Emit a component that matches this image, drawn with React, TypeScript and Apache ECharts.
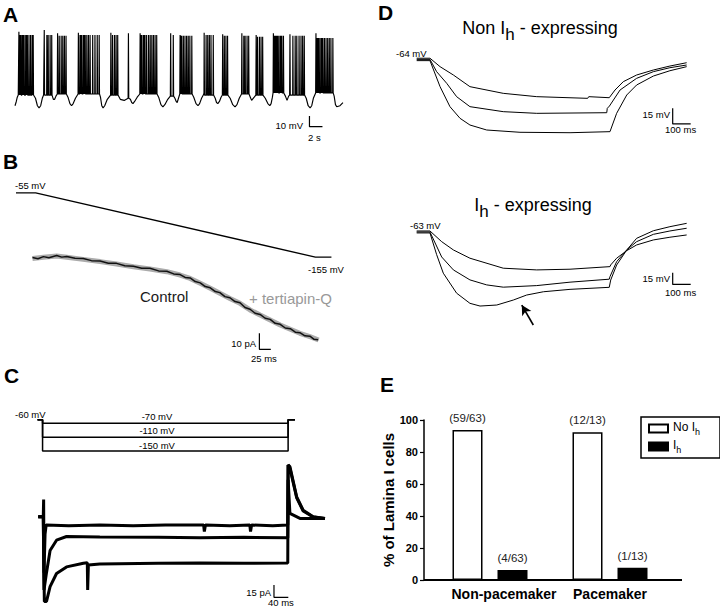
import React, { useEffect, useRef } from "react";
import * as echarts from "echarts";

const FONT = '"Liberation Sans", Arial, Helvetica, sans-serif';

// ---------- Panel A : spontaneous bursting (time s, membrane potential mV)
const aSlowWave: number[][] = [
  [0, -66], [0.2, -62], [0.35, -58], [0.5, -56],
  [2.9, -56], [3.15, -59], [3.45, -66], [3.7, -68], [3.95, -66], [4.2, -59], [4.4, -56],
  [5.7, -56], [5.9, -60], [6.1, -60], [6.3, -57], [6.5, -55],
  [7.9, -55], [8.15, -58], [8.45, -64], [8.7, -66], [8.95, -64], [9.3, -59], [9.7, -55],
  [13.0, -55], [13.15, -58], [13.35, -66], [13.55, -68], [13.8, -66], [14.2, -60], [14.7, -56],
  [15.85, -56], [16.2, -60], [16.8, -61], [17.4, -59],
  [17.5, -59], [17.75, -60], [17.95, -63], [18.15, -64], [18.4, -62], [18.8, -58], [19.2, -55],
  [21.85, -55], [22.1, -58], [22.45, -65], [22.75, -67], [23.05, -65], [23.5, -60], [23.9, -57],
  [24.4, -57], [24.6, -59], [24.8, -62], [24.95, -63], [25.15, -59], [25.35, -55],
  [27.25, -55], [27.5, -58], [27.85, -64], [28.15, -66], [28.4, -64], [28.7, -59], [29.05, -55],
  [30.55, -55], [30.8, -59], [31.0, -63], [31.2, -64], [31.45, -62], [31.7, -58], [31.9, -56],
  [32.75, -56], [33.1, -59], [33.5, -65], [33.85, -67], [34.15, -65], [34.5, -59], [34.85, -55],
  [36.0, -55], [36.2, -58], [36.4, -61], [36.8, -58], [37.05, -56],
  [38.15, -56], [38.5, -59], [38.9, -64], [39.2, -66], [39.4, -64], [39.6, -58], [39.7, -54],
  [41.35, -54], [41.6, -57], [41.85, -61], [42.1, -57], [42.25, -56],
  [44.55, -56], [44.8, -59], [45.1, -66], [45.4, -68], [45.65, -66], [45.9, -59], [46.25, -54],
  [48.95, -54], [49.1, -57], [49.3, -65], [49.5, -67], [50.0, -66], [50.45, -63],
];
const aBurstSpikes: number[][] = [
  [0.6, 0.75, 0.9, 1.1, 1.25, 1.4, 1.65, 1.8, 1.9, 2.15, 2.4, 2.65, 2.8],
  [4.5, 4.9, 5.1, 5.4, 5.65],
  [6.55, 6.8, 7.1, 7.35, 7.6, 7.85],
  [9.75, 10, 10.15, 10.25, 10.5, 10.65, 10.8, 11.05, 11.3, 11.55, 11.95, 12.3, 12.65, 12.95],
  [14.75, 15, 15.3, 15.55, 15.8],
  [17.45],
  [19.25, 19.4, 19.5, 19.75, 19.9, 20, 20.25, 20.55, 20.8, 21.05, 21.3, 21.55, 21.8],
  [23.95, 24.35],
  [25.4, 25.55, 25.65, 25.9, 26.15, 26.4, 26.65, 26.9, 27.2],
  [29.1, 29.4, 29.65, 29.9, 30.15, 30.5],
  [31.95, 32.2, 32.45, 32.7],
  [34.9, 35.2, 35.4, 35.7, 35.95],
  [37.1, 37.3, 37.6, 37.85, 38.1],
  [39.75, 39.9, 40, 40.15, 40.25, 40.4, 40.5, 40.75, 40.9, 41.05, 41.3],
  [42.3, 42.75, 43.1, 43.35, 43.7, 44, 44.25, 44.5],
  [46.3, 46.45, 46.55, 46.7, 46.8, 47.05, 47.2, 47.35, 47.6, 47.85, 48.1, 48.35, 48.6, 48.9],
];
const aBurstPlateau = [-56, -56, -55, -55, -56, -59, -55, -57, -55, -56, -56, -55, -56, -54, -56, -54];
const aPeakFirst = [3.4, 5, 1.9, 2.5, 2.5, 1.9, 1.9, 1.9, 0.3, 2.5, 1.0, 1.9, 0.3, 1.9, 1.0, 1.9];
const aPeakRest = [0.3, 0.3, -0.5, 0.3, 0.3, 0, 0.3, 0.3, -0.5, 0.3, -0.5, -0.5, -1.3, -0.5, -0.5, -2.5];

// ---------- Panel B : voltage ramp (ms, mV) and current (ms, pA)
const bCommandTime = [0, 43, 655, 690];
const bCommandMv = [-55, -55, -155, -155];
const bTertiapin: number[][] = [
  [36, 1.0], [60, 1.7], [89, 2.5], [111, 1.7], [147, 0.4], [184, -1.0], [220, -2.5], [257, -4.2],
  [293, -5.6], [330, -7.3], [359, -9.4], [381, -11.5], [403, -14.6], [425, -17.7], [446, -20.8],
  [468, -24.0], [490, -27.1], [512, -31.2], [534, -34.4], [556, -37.5], [578, -40.6], [600, -43.3],
  [621, -45.8], [643, -47.9], [662, -50.0],
];
const bControl: number[][] = [
  [36, 1.5], [48, 0.8], [60, 2.1], [72, 1.4], [89, 2.8], [100, 1.8], [111, 2.2], [129, 1.1], [147, 0.9],
  [165, -0.4], [184, -0.6], [202, -2.0], [220, -2.1], [238, -3.6], [257, -3.9], [275, -5.2], [293, -5.2],
  [312, -6.8], [330, -7.0], [345, -8.7], [359, -9.1], [370, -10.9], [381, -11.2], [392, -13.5], [403, -14.3],
  [414, -16.6], [425, -17.4], [436, -19.7], [446, -20.4], [457, -22.9], [468, -23.6], [479, -26.0],
  [490, -26.7], [501, -29.7], [512, -30.8], [523, -33.3], [534, -34.0], [545, -36.4], [556, -37.1],
  [567, -39.6], [578, -40.2], [589, -42.5], [600, -42.9], [611, -45.1], [621, -45.4], [632, -47.4],
  [643, -47.6], [652, -49.6], [661, -49.8],
];

// ---------- Panel C : voltage steps (ms, mV) and currents (ms, pA)
const cCommandTime = [63, 77, 77, 763, 763, 782];
const cCommandLevels: number[][] = [
  [-60, -60, -70, -70, -60, -60],
  [-60, -60, -110, -110, -60, -60],
  [-60, -60, -150, -150, -60, -60],
];
const cStepLabels = ["-70 mV", "-110 mV", "-150 mV"];
const cCurrent70: number[][] = [
  [65, 1], [79, 1], [80, 22], [81, -67], [84, -20], [87, -9], [150, -10], [237, -9], [330, -10], [420, -9],
  [527, -9], [529, -17], [532, -9], [600, -10], [656, -9], [658, -17], [661, -9], [720, -10], [762, -9],
  [763, 46], [768, 5], [796, -1], [866, -1],
];
const cCurrent110: number[][] = [
  [65, 1], [79, 1], [81, -88], [88, -67], [98, -40], [116, -27.5], [144, -23], [237, -23.6], [400, -24],
  [517, -24.5], [640, -24], [762, -24.5], [763, 64], [768, 62], [787, 25], [805, 9], [833, 1], [866, -1],
];
const cCurrent150: number[][] = [
  [65, 1], [79, 1], [82, -102], [88, -102], [98, -84], [116, -68], [144, -60], [191, -55.6], [202, -55],
  [203, -88], [205, -57.7], [237, -56.4], [400, -55.5], [517, -55.2], [640, -55.5], [762, -55.2],
  [763, 64], [768, 60], [787, 24], [805, 8], [833, 0.7], [866, -1],
];

// ---------- Panel D : voltage responses (ms, mV)
const dNonSmall: number[][] = [
  [37, -63.5], [111, -63.5], [167, -71.6], [241, -79.6], [333, -90.8], [518, -97.2], [704, -100.4],
  [987, -102], [993, -100.4], [1107, -101.4], [1139, -94], [1185, -86], [1259, -79.6], [1352, -74.8],
  [1444, -71], [1537, -67.8],
];
const dNonMid: number[][] = [
  [37, -64.6], [111, -64.6], [148, -76.4], [204, -87.6], [259, -100.4], [333, -110], [518, -114.8],
  [704, -116.4], [1093, -115.8], [1096, -111.6], [1108, -109.4], [1167, -94], [1259, -82.8],
  [1352, -76.4], [1444, -72.6], [1537, -70],
];
const dNonLarge: number[][] = [
  [37, -65.8], [111, -65.8], [167, -90.8], [222, -110], [278, -121.2], [333, -127.6], [426, -132.4],
  [611, -134.6], [889, -135], [1111, -134], [1148, -116.4], [1204, -98.8], [1259, -89.2], [1352, -80.6],
  [1444, -75.5], [1537, -71.6],
];
const dIhSmall: number[][] = [
  [37, -61.7], [111, -61.7], [176, -75.4], [241, -86], [333, -96.6], [518, -109.4], [704, -111.6],
  [889, -110.7], [1111, -107.4], [1115, -105.2], [1148, -96.6], [1204, -86.9], [1259, -79.6],
  [1352, -73.2], [1444, -69.7], [1537, -66.8],
];
const dIhMid: number[][] = [
  [37, -63], [111, -63], [176, -95], [241, -111.6], [333, -124.4], [426, -130.8], [518, -133.7],
  [704, -131.7], [889, -127.3], [1107, -123.5], [1111, -120.2], [1148, -101], [1204, -86],
  [1259, -75.4], [1352, -66], [1444, -61.7], [1537, -58.2],
];
const dIhLarge: number[][] = [
  [37, -64.2], [111, -64.2], [148, -92], [185, -115.8], [259, -141.4], [333, -154.4], [389, -157.9],
  [482, -156.6], [574, -150.2], [648, -143.8], [741, -139.6], [889, -136.5], [1107, -133.9],
  [1115, -124.6], [1148, -105.3], [1204, -86.1], [1259, -71.1], [1352, -61.4], [1444, -56.2],
  [1537, -51.9],
];
const dSagArrow = [[685, -182.2], [621, -156.6]];

// ---------- Panel E : bar chart
const eCategories = ["Non-pacemaker", "Pacemaker"];
const eNoIh = [93.7, 92.3];
const eIh = [6.3, 7.7];
const eNoIhLabels = ["(59/63)", "(12/13)"];
const eIhLabels = ["(4/63)", "(1/13)"];

// scale bars: anchor (data units) + lengths
const scaleBars = [
  { xi: 0, yi: 0, x: 45.3, y: -75.6, dx: 2, dy: 10 },
  { xi: 1, yi: 2, x: 532.4, y: -45.8, dx: 25, dy: 10 },
  { xi: 2, yi: 4, x: 723.5, y: -82, dx: 40, dy: 15 },
  { xi: 3, yi: 5, x: 1459.4, y: -111.6, dx: 100, dy: 15 },
  { xi: 4, yi: 6, x: 1459.4, y: -115.2, dx: 100, dy: 15 },
];

function buildBurstTrace(): number[][] {
  const pts: number[][] = aSlowWave.map((p) => [p[0], p[1]]);
  aBurstSpikes.forEach((spikes, i) => {
    spikes.forEach((t, j) => {
      const peak = j === 0 ? aPeakFirst[i] : aPeakRest[i];
      pts.push([t - 0.03, aBurstPlateau[i]], [t, peak], [t + 0.05, aBurstPlateau[i]]);
    });
  });
  pts.sort((a, b) => a[0] - b[0]);
  return pts;
}

function trace(xi: number, yi: number, data: number[][], color = "#000", width = 1, z = 2, extra: any = {}) {
  return {
    type: "line",
    xAxisIndex: xi,
    yAxisIndex: yi,
    data,
    showSymbol: false,
    symbol: "none",
    silent: true,
    clip: false,
    z,
    lineStyle: { color, width },
    ...extra,
  };
}

function hAxis(gridIndex: number, min: number, max: number) {
  return { type: "value", gridIndex, min, max, show: false, splitLine: { show: false } };
}

function txt(x: number, y: number, text: string, size: number, o: any = {}) {
  return {
    type: "text",
    x,
    y,
    silent: true,
    style: {
      text,
      fill: o.color || "#000",
      fontSize: size,
      fontFamily: FONT,
      fontWeight: o.weight || "normal",
      align: o.align || "left",
      verticalAlign: o.va || "middle",
    },
  };
}

function subTitle(x: number, y: number, before: string, after: string) {
  return {
    type: "text",
    x,
    y,
    silent: true,
    style: {
      text: `{m|${before}}{s|h}{m|${after}}`,
      align: "center",
      verticalAlign: "top",
      rich: {
        m: { fontSize: 18, fontFamily: FONT, fill: "#000", verticalAlign: "top" },
        s: { fontSize: 17, fontFamily: FONT, fill: "#000", verticalAlign: "top", padding: [7, 0, 0, 0] },
      },
    },
  };
}

function buildOption(): any {
  const series: any[] = [];
  // A
  series.push(trace(0, 0, buildBurstTrace(), "#000", 1.15));
  // B
  series.push(trace(1, 1, bCommandTime.map((t, i) => [t, bCommandMv[i]]), "#000", 1.3));
  series.push(trace(1, 2, bTertiapin, "#ababab", 5, 2));
  series.push(trace(1, 2, bControl, "#111", 1.5, 3));
  // C
  cCommandLevels.forEach((lv) => {
    series.push(trace(2, 3, cCommandTime.map((t, i) => [t, lv[i]]), "#000", 1.5));
  });
  [cCurrent70, cCurrent110, cCurrent150].forEach((d) => series.push(trace(2, 4, d, "#000", 3)));
  // D
  [dNonSmall, dNonMid, dNonLarge].forEach((d) => series.push(trace(3, 5, d, "#000", 1)));
  [dIhSmall, dIhMid].forEach((d) => series.push(trace(4, 6, d, "#000", 1)));
  series.push(
    trace(4, 6, dIhLarge, "#000", 1, 2, {
      markLine: {
        silent: true,
        symbol: ["none", "arrow"],
        symbolSize: [8, 10],
        label: { show: false },
        lineStyle: { color: "#000", width: 1.6, type: "solid" },
        data: [[{ coord: dSagArrow[0] }, { coord: dSagArrow[1] }]],
      },
    })
  );
  // scale bars
  scaleBars.forEach((s) => {
    series.push(
      trace(s.xi, s.yi, [[s.x, s.y], [s.x, s.y - s.dy], [s.x + s.dx, s.y - s.dy]], "#000", 1.2)
    );
  });
  // E bars
  series.push({
    type: "bar",
    name: "No Ih",
    xAxisIndex: 5,
    yAxisIndex: 7,
    data: eNoIh,
    barWidth: 30,
    barGap: "50%",
    itemStyle: { color: "#fff", borderColor: "#000", borderWidth: 1.5 },
    label: {
      show: true,
      position: "top",
      distance: 6,
      fontSize: 11.5,
      color: "#222",
      fontFamily: FONT,
      formatter: (p: any) => eNoIhLabels[p.dataIndex],
    },
  });
  series.push({
    type: "bar",
    name: "Ih",
    xAxisIndex: 5,
    yAxisIndex: 7,
    data: eIh,
    barWidth: 30,
    barGap: "50%",
    itemStyle: { color: "#000", borderColor: "#000", borderWidth: 1.5 },
    label: {
      show: true,
      position: "top",
      distance: 6,
      fontSize: 11.5,
      color: "#222",
      fontFamily: FONT,
      formatter: (p: any) => eIhLabels[p.dataIndex],
    },
  });

  const graphic: any[] = [
    // panel letters
    txt(3, 14.5, "A", 21, { weight: "bold" }),
    txt(3, 161, "B", 21, { weight: "bold" }),
    txt(4, 375, "C", 21, { weight: "bold" }),
    txt(378, 12.5, "D", 21, { weight: "bold" }),
    txt(380, 384, "E", 21, { weight: "bold" }),
    // A
    txt(303, 125, "10 mV", 9.5, { align: "right" }),
    txt(308, 137, "2 s", 9.5),
    // B
    txt(15, 185, "-55 mV", 9.5),
    txt(308, 269, "-155 mV", 9.5),
    txt(140, 296, "Control", 15, { color: "#1a1a1a" }),
    txt(249, 298, "+ tertiapin-Q", 15, { color: "#999" }),
    txt(256, 343, "10 pA", 9.5, { align: "right" }),
    txt(251, 358, "25 ms", 9.5),
    // C
    txt(15, 414, "-60 mV", 9.5),
    txt(157, 416, cStepLabels[0], 9.5, { align: "center" }),
    txt(157, 430, cStepLabels[1], 9.5, { align: "center" }),
    txt(157, 445, cStepLabels[2], 9.5, { align: "center" }),
    txt(271, 592, "15 pA", 9.5, { align: "right" }),
    txt(268, 602, "40 ms", 9.5),
    // D
    subTitle(540, 19, "Non I", " - expressing"),
    txt(396, 53.5, "-64 mV", 9.5),
    txt(670, 114, "15 mV", 9.5, { align: "right" }),
    txt(665, 129.5, "100 ms", 9.5),
    subTitle(533, 196, "I", " - expressing"),
    txt(410, 225, "-63 mV", 9.5),
    txt(670, 278.5, "15 mV", 9.5, { align: "right" }),
    txt(665, 292, "100 ms", 9.5),
    // E x-axis line
    {
      type: "line",
      silent: true,
      shape: { x1: 424, y1: 580, x2: 682, y2: 580 },
      style: { stroke: "#000", lineWidth: 2 },
    },
  ];

  return {
    animation: false,
    backgroundColor: "#fff",
    textStyle: { fontFamily: FONT },
    grid: [
      { left: 15, top: 30, width: 328, height: 100 },
      { left: 16, top: 180, width: 320, height: 180 },
      { left: 15, top: 400, width: 315, height: 208 },
      { left: 410, top: 40, width: 288, height: 100 },
      { left: 410, top: 200, width: 288, height: 130 },
      { left: 430, top: 420, width: 240, height: 160 },
    ],
    xAxis: [
      hAxis(0, 0, 50.46),
      hAxis(1, 0, 700),
      hAxis(2, 0, 880),
      hAxis(3, 0, 1600),
      hAxis(4, 0, 1600),
      {
        type: "category",
        gridIndex: 5,
        data: eCategories,
        axisLine: { show: false },
        axisTick: { show: false },
        axisLabel: {
          interval: 0,
          hideOverlap: false,
          margin: 7,
          formatter: (v: string, i: number) => (i === 0 ? `{a|${v}}` : `{b|${v}}`),
          rich: {
            a: { padding: [0, 0, 0, 28], fontWeight: "bold", fontSize: 14, color: "#000", fontFamily: FONT },
            b: { fontWeight: "bold", fontSize: 14, color: "#000", fontFamily: FONT },
          },
        },
      },
    ],
    yAxis: [
      hAxis(0, -88.75, 5),
      hAxis(1, -315, -35),
      hAxis(1, -62.5, 50),
      hAxis(2, -603.4, -2.71),
      hAxis(2, -110, 143),
      hAxis(3, -142, -46),
      hAxis(4, -188.6, -22),
      {
        type: "value",
        gridIndex: 5,
        min: 0,
        max: 100,
        interval: 20,
        offset: 6,
        name: "% of Lamina I cells",
        nameLocation: "middle",
        nameGap: 27,
        nameTextStyle: { fontWeight: "bold", fontSize: 15, color: "#000", fontFamily: FONT },
        axisLine: { show: true, lineStyle: { color: "#000", width: 1.5 } },
        axisTick: { show: true, length: 4, lineStyle: { color: "#000", width: 1.2 } },
        axisLabel: { fontWeight: "bold", fontSize: 11, color: "#000", margin: 6, fontFamily: FONT },
        splitLine: { show: false },
      },
    ],
    legend: {
      data: ["No Ih", "Ih"],
      left: 641,
      top: 417,
      orient: "vertical",
      icon: "rect",
      itemWidth: 19,
      itemHeight: 8,
      itemGap: 3,
      padding: [4, 20, 4, 7],
      borderColor: "#000",
      borderWidth: 1.5,
      selectedMode: false,
      formatter: (name: string) => (name === "No Ih" ? "{m|No I}{s|h}" : "{m|I}{s|h}"),
      textStyle: {
        rich: {
          m: { fontSize: 12, color: "#000", fontFamily: FONT, verticalAlign: "top" },
          s: { fontSize: 9, color: "#000", fontFamily: FONT, verticalAlign: "top", padding: [6, 0, 0, 0] },
        },
      },
    },
    series,
    graphic,
  };
}

export default function App() {
  const ref = useRef<HTMLDivElement>(null);
  useEffect(() => {
    if (!ref.current) return;
    const chart = echarts.init(ref.current, null, { renderer: "svg" });
    chart.setOption(buildOption());
    return () => chart.dispose();
  }, []);
  return (
    <div
      ref={ref}
      style={{ position: "fixed", left: 0, top: 0, width: 720, height: 608, background: "#fff" }}
    />
  );
}
